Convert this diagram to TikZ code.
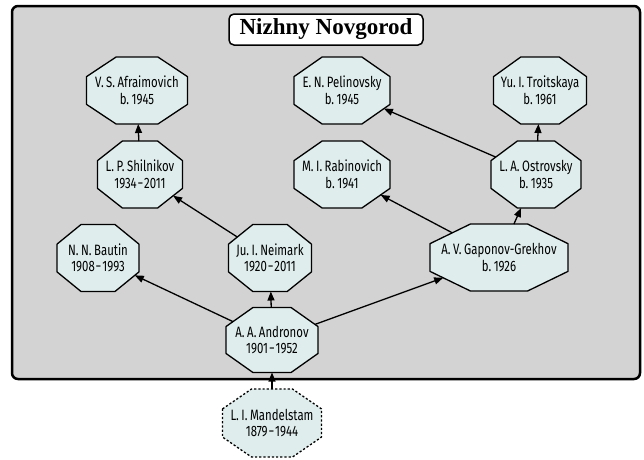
\documentclass[tikz,border=0pt]{standalone}
\usepackage{fontspec}
\setmainfont{Liberation Serif}
\newfontfamily\nodefont[FakeStretch=0.76]{Fira Sans}
\usetikzlibrary{intersections,arrows.meta}
\definecolor{boxgray}{HTML}{D3D3D3}
\definecolor{nodefill}{HTML}{E0EDED}
\newcommand\octnode[7][octline]{%
  \path[#1, name path global=P#2]
    ({#3-0.5*#5},{#4-0.207*#6}) -- ({#3-0.207*#5},{#4-0.5*#6}) --
    ({#3+0.207*#5},{#4-0.5*#6}) -- ({#3+0.5*#5},{#4-0.207*#6}) --
    ({#3+0.5*#5},{#4+0.207*#6}) -- ({#3+0.207*#5},{#4+0.5*#6}) --
    ({#3-0.207*#5},{#4+0.5*#6}) -- ({#3-0.5*#5},{#4+0.207*#6}) -- cycle;
  \node[txt] (#2) at (#3,#4) {#7};}
\newcommand\linkoct[2]{%
  \path[name path=L#1#2] (#1.center) -- (#2.center);
  \path[name intersections={of=L#1#2 and P#1, by=s#1#2}];
  \path[name intersections={of=L#1#2 and P#2, by=t#1#2}];
  \draw[edge] (s#1#2) -- (t#1#2);}
\newcommand\yrs[2]{#1\kern0.9pt−\kern0.9pt#2}
\begin{document}
\begin{tikzpicture}[x=1pt,y=-1pt,
  octline/.style={draw=black, line width=1.3pt, fill=nodefill, line join=round},
  octdash/.style={octline, dash pattern=on 2.2pt off 2pt},
  txt/.style={font=\nodefont\fontsize{15}{16.5}\selectfont, align=center, inner sep=0pt},
  edge/.style={draw=black, line width=1.3pt, -{Triangle[length=9pt,width=7pt]}},
  titlebox/.style={draw=black, fill=white, line width=1.5pt, rounded corners=5pt,
    minimum width=194pt, minimum height=31pt, inner sep=0pt,
    font=\fontsize{23}{26}\selectfont\bfseries}
]
\useasboundingbox (0,0) rectangle (644,459);
\draw[fill=boxgray, line width=2.5pt, rounded corners=6pt] (12,6) rectangle (640,379);
\node[titlebox] (title) at (326,29.5) {Nizhny Novgorod};

\octnode{afr}{137}{90.5}{101}{67}{V.\,S.\,Afraimovich\\b.\,1945}
\octnode{pel}{342}{90.5}{96}{67}{E.\,N.\,Pelinovsky\\b.\,1945}
\octnode{tro}{540}{90.5}{93}{67}{Yu.\,I.\,Troitskaya\\b.\,1961}
\octnode{shi}{140}{174.5}{85}{67}{L.\,P.\,Shilnikov\\\yrs{1934}{2011}}
\octnode{rab}{342}{174.5}{96}{67}{M.\,I.\,Rabinovich\\b.\,1941}
\octnode{ost}{536}{174.5}{90}{67}{L.\,A.\,Ostrovsky\\b.\,1935}
\octnode{bau}{98}{258}{82}{67}{N.\,N.\,Bautin\\\yrs{1908}{1993}}
\octnode{nei}{270}{258}{83}{67}{Ju.\,I.\,Neimark\\\yrs{1920}{2011}}
\octnode{gap}{499}{257.5}{138}{67}{A.\,V.\,Gaponov-Grekhov\\b.\,1926}
\octnode{and}{272}{340}{92}{65}{A.\,A.\,Andronov\\\yrs{1901}{1952}}
\octnode[octdash]{man}{272}{423}{99}{68}{L.\,I.\,Mandelstam\\\yrs{1879}{1944}}

\linkoct{shi}{afr}
\linkoct{nei}{shi}
\linkoct{and}{bau}
\linkoct{and}{nei}
\linkoct{and}{gap}
\linkoct{gap}{rab}
\linkoct{gap}{ost}
\linkoct{ost}{pel}
\linkoct{ost}{tro}
\linkoct{man}{and}
\end{tikzpicture}
\end{document}
